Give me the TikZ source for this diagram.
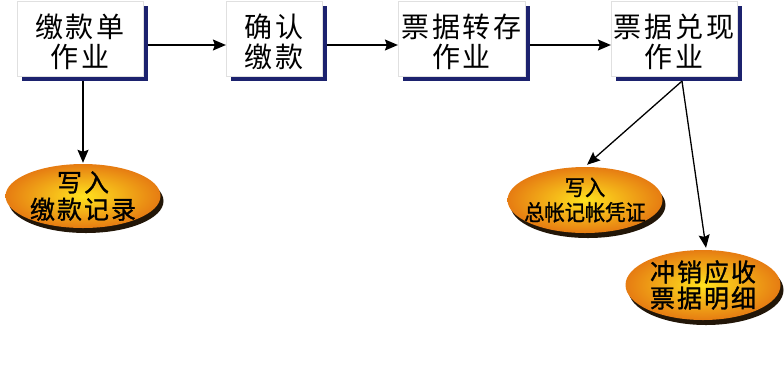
\documentclass[tikz,border=0pt]{standalone}
\usepackage{fontspec}
\newfontfamily\cjk{Noto Sans CJK SC}
\newfontfamily\cjkwide[LetterSpace=10]{Noto Sans CJK SC}
\newfontfamily\cjkheavy[LetterSpace=8,FakeBold=1.2]{Noto Sans CJK SC}
\newfontfamily\cjknarrow[FakeBold=1.2,FakeStretch=0.92]{Noto Sans CJK SC}
\usetikzlibrary{arrows.meta,positioning,shapes.geometric,shadows}

\definecolor{boxshadow}{RGB}{28,34,110}
\definecolor{recin}{RGB}{255,226,30}
\definecolor{recout}{RGB}{230,124,18}
\definecolor{recshadow}{RGB}{34,22,8}

\begin{document}
\begin{tikzpicture}[x=1pt,y=-1pt,
                font=\cjk,
                jobbox/.style={rectangle, fill=white, draw=black!12, very thin, minimum height=75pt, align=center, inner sep=0pt,
                    text height=61pt, text depth=3pt,
                    font=\cjkwide\fontsize{28}{30}\selectfont,
                    drop shadow={shadow xshift=5pt, shadow yshift=-5pt, fill=boxshadow, opacity=1}},
                recnode/.style={ellipse, shade, inner color=recin, outer color=recout, minimum width=155pt, minimum height=64pt, align=center, inner sep=-20pt,
                    drop shadow={shadow xshift=3pt, shadow yshift=-5pt, fill=recshadow, opacity=1}},
                arr/.style={-{Stealth[length=13pt,width=11pt,inset=2pt]}, line width=1.3pt},
            ]
            \useasboundingbox (0,0) rectangle (784,384);
            % job boxes
            \node[jobbox, minimum width=126pt] (b1) at (80,38.5)    {缴款单\\作业};
            \node[jobbox, minimum width=96pt]  (b2) at (274,38.5)   {确认\\缴款};
            \node[jobbox, minimum width=127pt] (b3) at (461.5,38.5) {票据转存\\作业};
            \node[jobbox, minimum width=126pt] (b4) at (674,38.5)   {票据兑现\\作业};

            % records
            \node[recnode, font=\cjkheavy\fontsize{25}{27}\selectfont] (r1) at (83,196) {写入\\缴款记录};
            \node[recnode, minimum height=66pt, font=\cjknarrow\fontsize{22}{25}\selectfont] (r2) at (585,200) {写入\\总帐记帐凭证};
            \node[recnode, minimum height=70pt, font=\cjkheavy\fontsize{25}{26}\selectfont] (r3) at (703,285) {冲销应收\\票据明细};

            \coordinate (fork) at ([xshift=8pt,yshift=-5pt]b4.south);

            \draw[arr] ([xshift=5pt,yshift=-6.5pt]b1.east) -- ([yshift=-6.5pt]b2.west);
            \draw[arr] ([xshift=5pt,yshift=-6.5pt]b2.east) -- ([yshift=-6.5pt]b3.west);
            \draw[arr] ([xshift=5pt,yshift=-6.5pt]b3.east) -- ([yshift=-6.5pt]b4.west);
            \draw[arr] ([xshift=3pt,yshift=-5pt]b1.south) -- ([yshift=1pt]r1.north);
            \draw[arr] (fork) -- ([xshift=2pt,yshift=2pt]r2.north);
            \draw[arr] (fork) -- ([xshift=3pt,yshift=2pt]r3.north);
        \end{tikzpicture}
\end{document}
